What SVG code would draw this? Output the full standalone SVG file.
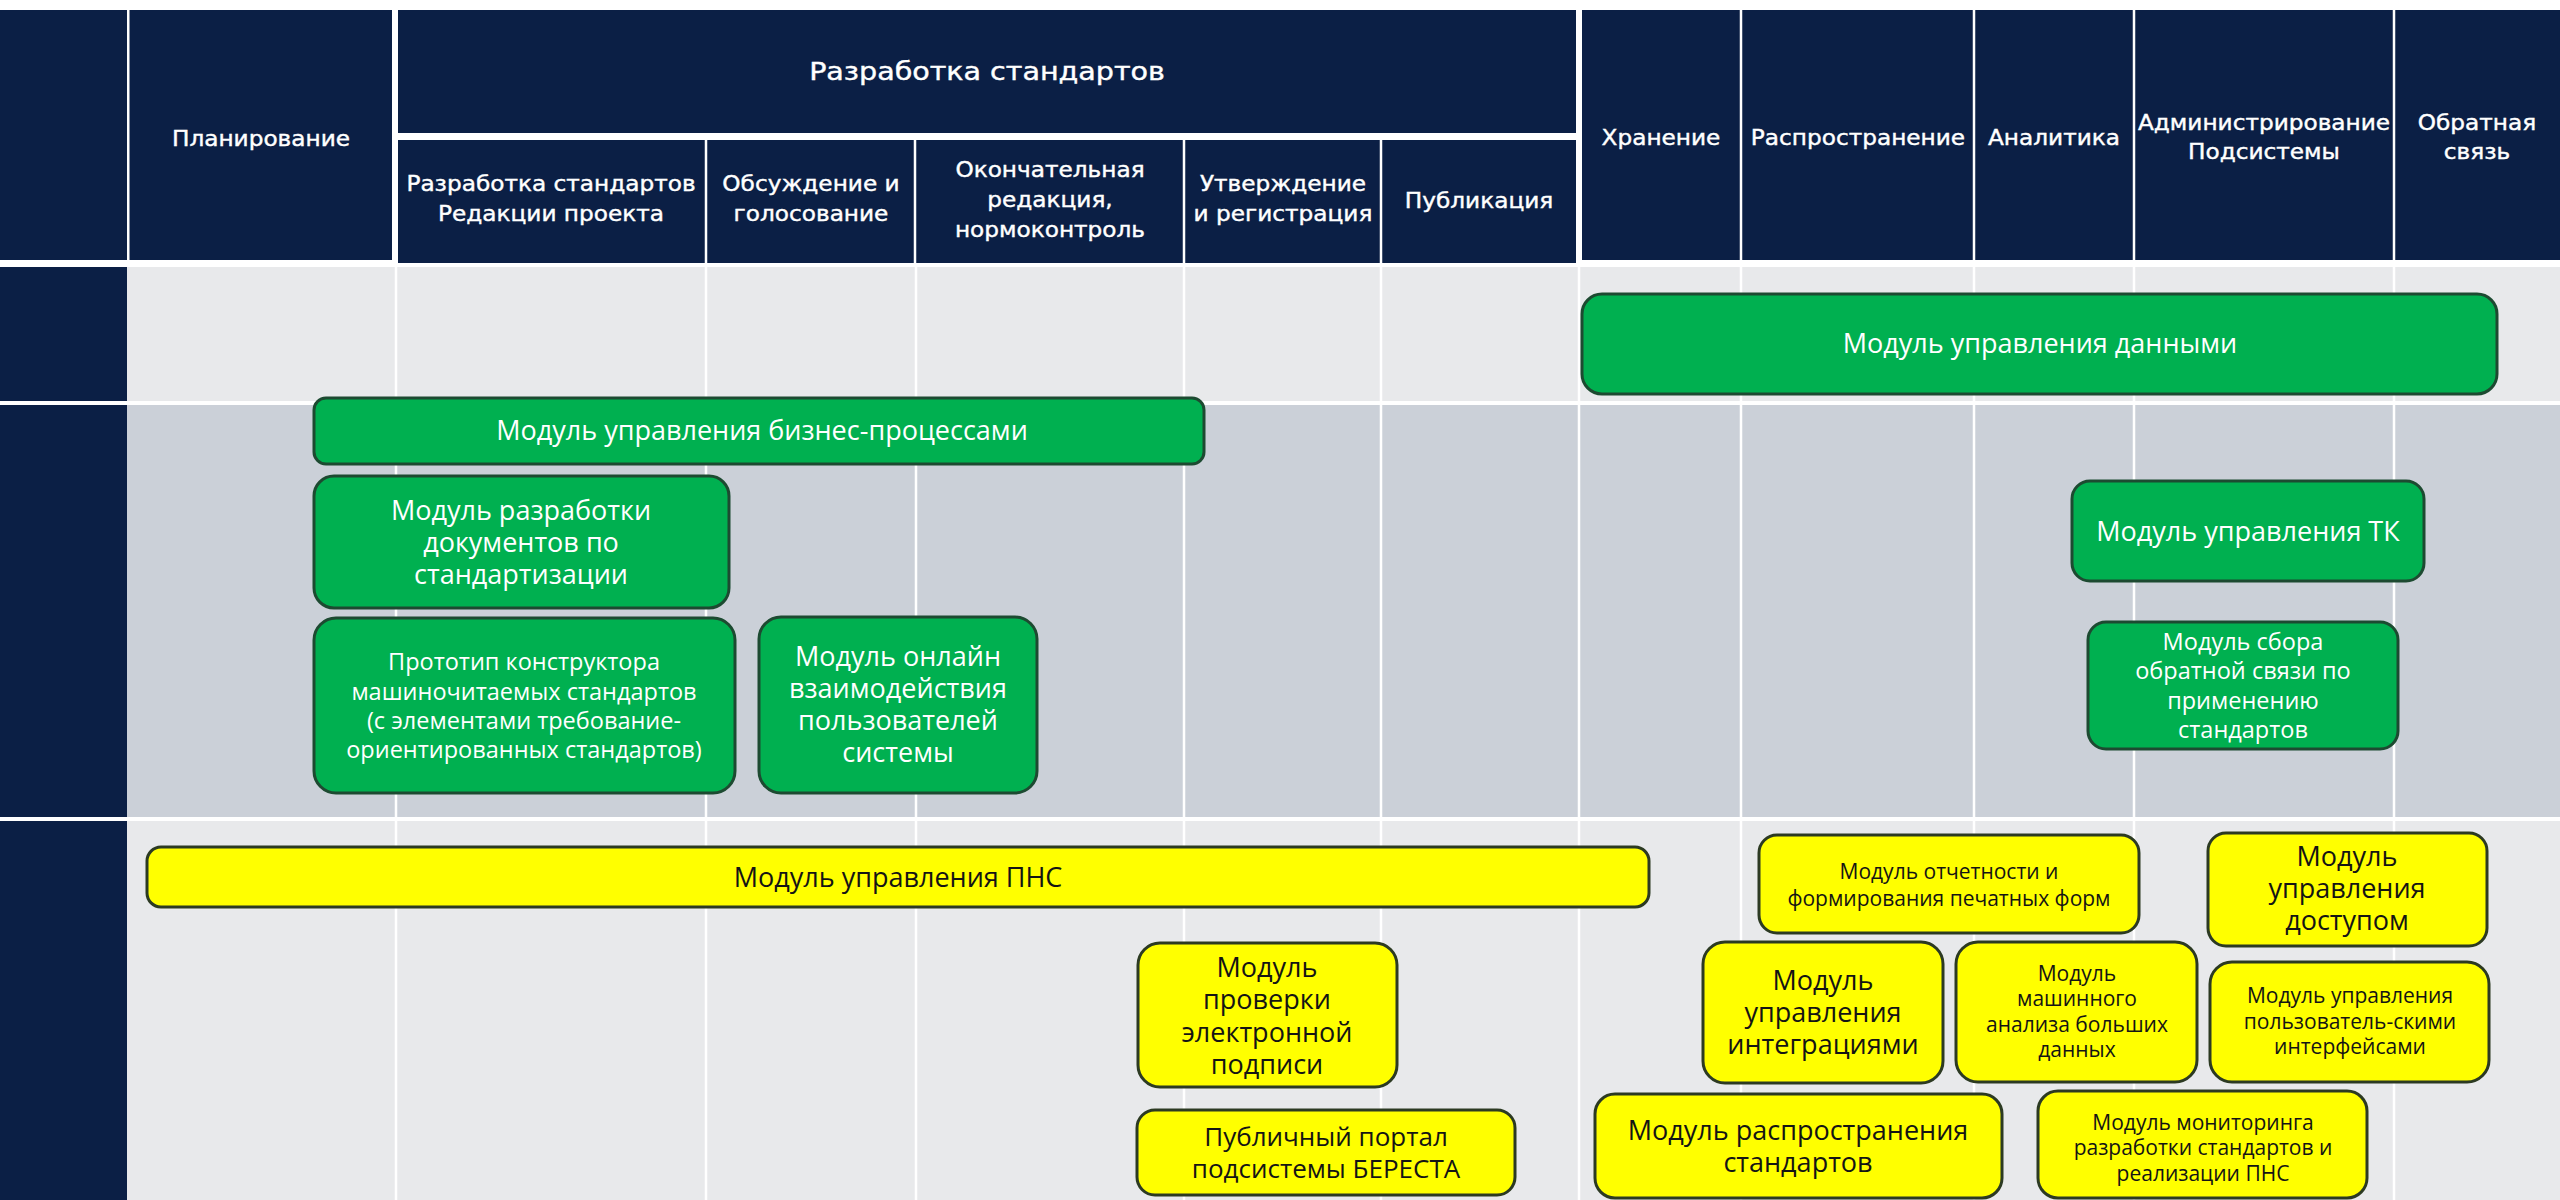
<svg xmlns="http://www.w3.org/2000/svg" width="2560" height="1200" viewBox="0 0 2560 1200">
<style>
.navy{fill:#0b1f45}
.r1{fill:#e8e9eb}
.r2{fill:#cbd0d8}
.wl{stroke:#ffffff;stroke-width:2.5}
.hd{font-family:"DejaVu Sans","Open Sans",sans-serif;fill:#ffffff;stroke:#ffffff;stroke-width:0.4;text-anchor:middle;font-size:21.5px;transform-box:fill-box;transform-origin:center;transform:scaleX(1.08)}
.ttl{font-size:24px;transform:scaleX(1.19)}
.gn rect{fill:#00b050;stroke:#1d4a31;stroke-width:3}
.yn rect{fill:#ffff00;stroke:#2c3a22;stroke-width:3}
.gn text{font-family:"Open Sans","Noto Sans",sans-serif;fill:#ffffff;text-anchor:middle}
.yn text{font-family:"Open Sans","Noto Sans",sans-serif;fill:#141414;text-anchor:middle}
.f27{font-size:27px}
.f26{font-size:26px}
.f23{font-size:23.5px}
.f21{font-size:21px}
</style>
<rect x="0" y="0" width="2560" height="1200" fill="#ffffff"/>

<g id="header">
  <rect class="navy" x="0" y="10" width="2560" height="250"/>
  <rect class="navy" x="398" y="140" width="1178" height="123"/>
  <rect x="127" y="10" width="2.5" height="250" fill="#fff"/>
  <rect x="392" y="10" width="6" height="257" fill="#fff"/>
  <rect x="1576" y="10" width="6" height="257" fill="#fff"/>
  <rect x="398" y="133" width="1178" height="7" fill="#fff"/>
  <rect x="398" y="263" width="1178" height="4" fill="#fff"/>
  <line class="wl" x1="706" y1="140" x2="706" y2="263"/>
  <line class="wl" x1="915" y1="140" x2="915" y2="263"/>
  <line class="wl" x1="1184" y1="140" x2="1184" y2="263"/>
  <line class="wl" x1="1381" y1="140" x2="1381" y2="263"/>
  <line class="wl" x1="1741" y1="10" x2="1741" y2="260"/>
  <line class="wl" x1="1974" y1="10" x2="1974" y2="260"/>
  <line class="wl" x1="2134" y1="10" x2="2134" y2="260"/>
  <line class="wl" x1="2394" y1="10" x2="2394" y2="260"/>
  <text class="hd" x="261" y="146">Планирование</text>
  <text class="hd ttl" x="987" y="80">Разработка стандартов</text>
  <text class="hd" x="551" y="191">Разработка стандартов<tspan x="551" y="221">Редакции проекта</tspan></text>
  <text class="hd" x="811" y="191">Обсуждение и<tspan x="811" y="221">голосование</tspan></text>
  <text class="hd" x="1050" y="177">Окончательная<tspan x="1050" y="207">редакция,</tspan><tspan x="1050" y="237">нормоконтроль</tspan></text>
  <text class="hd" x="1283" y="191">Утверждение<tspan x="1283" y="221">и регистрация</tspan></text>
  <text class="hd" x="1479" y="208">Публикация</text>
  <text class="hd" x="1661" y="145">Хранение</text>
  <text class="hd" x="1858" y="145">Распространение</text>
  <text class="hd" x="2054" y="145">Аналитика</text>
  <text class="hd" x="2264" y="130">Администрирование<tspan x="2264" y="159">Подсистемы</tspan></text>
  <text class="hd" x="2477" y="130">Обратная<tspan x="2477" y="159">связь</tspan></text>
</g>

<g id="rows">
  <rect class="r1" x="127" y="267" width="2433" height="134"/>
  <rect class="r2" x="127" y="405" width="2433" height="412"/>
  <rect class="r1" x="127" y="821" width="2433" height="379"/>
  <rect class="navy" x="0" y="267" width="127" height="134"/>
  <rect class="navy" x="0" y="405" width="127" height="412"/>
  <rect class="navy" x="0" y="821" width="127" height="379"/>
  <g class="wl">
    <line x1="396" y1="267" x2="396" y2="1200"/>
    <line x1="706" y1="267" x2="706" y2="1200"/>
    <line x1="916" y1="267" x2="916" y2="1200"/>
    <line x1="1184" y1="267" x2="1184" y2="1200"/>
    <line x1="1381" y1="267" x2="1381" y2="1200"/>
    <line x1="1579" y1="267" x2="1579" y2="1200"/>
    <line x1="1741" y1="267" x2="1741" y2="1200"/>
    <line x1="1974" y1="267" x2="1974" y2="1200"/>
    <line x1="2134" y1="267" x2="2134" y2="1200"/>
    <line x1="2394" y1="267" x2="2394" y2="1200"/>
  </g>
</g>

<g id="connectors"/>

<g id="n-data" class="gn">
  <rect x="1582" y="294" width="915" height="100" rx="20"/>
  <text class="f27" x="2040" y="353">Модуль управления данными</text>
</g>
<g id="n-bp" class="gn">
  <rect x="314" y="398" width="890" height="66" rx="12"/>
  <text class="f27" x="762" y="440">Модуль управления бизнес-процессами</text>
</g>
<g id="n-docs" class="gn">
  <rect x="314" y="476" width="415" height="132" rx="20"/>
  <text class="f27" x="521" y="520">Модуль разработки<tspan x="521" y="552">документов по</tspan><tspan x="521" y="584">стандартизации</tspan></text>
</g>
<g id="n-proto" class="gn">
  <rect x="314" y="618" width="421" height="175" rx="22"/>
  <text class="f23" x="524" y="670">Прототип конструктора<tspan x="524" y="700">машиночитаемых стандартов</tspan><tspan x="524" y="729">(с элементами требование-</tspan><tspan x="524" y="758">ориентированных стандартов)</tspan></text>
</g>
<g id="n-online" class="gn">
  <rect x="759" y="617" width="278" height="176" rx="22"/>
  <text class="f27" x="898" y="666">Модуль онлайн<tspan x="898" y="698">взаимодействия</tspan><tspan x="898" y="730">пользователей</tspan><tspan x="898" y="762">системы</tspan></text>
</g>
<g id="n-tk" class="gn">
  <rect x="2072" y="481" width="352" height="100" rx="18"/>
  <text class="f27" x="2248" y="541">Модуль управления ТК</text>
</g>
<g id="n-feedback" class="gn">
  <rect x="2088" y="622" width="310" height="127" rx="18"/>
  <text class="f23" x="2243" y="650">Модуль сбора<tspan x="2243" y="679">обратной связи по</tspan><tspan x="2243" y="709">применению</tspan><tspan x="2243" y="738">стандартов</tspan></text>
</g>

<g id="n-pns" class="yn">
  <rect x="147" y="847" width="1502" height="60" rx="14"/>
  <text class="f27" x="898" y="887">Модуль управления ПНС</text>
</g>
<g id="n-sign" class="yn">
  <rect x="1138" y="943" width="259" height="144" rx="22"/>
  <text class="f27" x="1267" y="977">Модуль<tspan x="1267" y="1009">проверки</tspan><tspan x="1267" y="1042">электронной</tspan><tspan x="1267" y="1074">подписи</tspan></text>
</g>
<g id="n-portal" class="yn">
  <rect x="1137" y="1110" width="378" height="85" rx="18"/>
  <text class="f26" x="1326" y="1146">Публичный портал<tspan x="1326" y="1178">подсистемы БЕРЕСТА</tspan></text>
</g>
<g id="n-reports" class="yn">
  <rect x="1759" y="835" width="380" height="98" rx="18"/>
  <text class="f21" x="1949" y="879">Модуль отчетности и<tspan x="1949" y="906">формирования печатных форм</tspan></text>
</g>
<g id="n-access" class="yn">
  <rect x="2208" y="833" width="279" height="113" rx="18"/>
  <text class="f27" x="2347" y="866">Модуль<tspan x="2347" y="898">управления</tspan><tspan x="2347" y="930">доступом</tspan></text>
</g>
<g id="n-integr" class="yn">
  <rect x="1703" y="942" width="240" height="141" rx="22"/>
  <text class="f27" x="1823" y="990">Модуль<tspan x="1823" y="1022">управления</tspan><tspan x="1823" y="1054">интеграциями</tspan></text>
</g>
<g id="n-bigdata" class="yn">
  <rect x="1956" y="942" width="241" height="140" rx="22"/>
  <text class="f21" x="2077" y="981">Модуль<tspan x="2077" y="1006">машинного</tspan><tspan x="2077" y="1032">анализа больших</tspan><tspan x="2077" y="1057">данных</tspan></text>
</g>
<g id="n-ui" class="yn">
  <rect x="2210" y="962" width="279" height="120" rx="22"/>
  <text class="f21" x="2350" y="1003">Модуль управления<tspan x="2350" y="1029">пользователь-скими</tspan><tspan x="2350" y="1054">интерфейсами</tspan></text>
</g>
<g id="n-distrib" class="yn">
  <rect x="1595" y="1094" width="407" height="104" rx="20"/>
  <text class="f27" x="1798" y="1140">Модуль распространения<tspan x="1798" y="1172">стандартов</tspan></text>
</g>
<g id="n-monitor" class="yn">
  <rect x="2038" y="1091" width="329" height="107" rx="20"/>
  <text class="f21" x="2203" y="1130">Модуль мониторинга<tspan x="2203" y="1155">разработки стандартов и</tspan><tspan x="2203" y="1181">реализации ПНС</tspan></text>
</g>
</svg>
